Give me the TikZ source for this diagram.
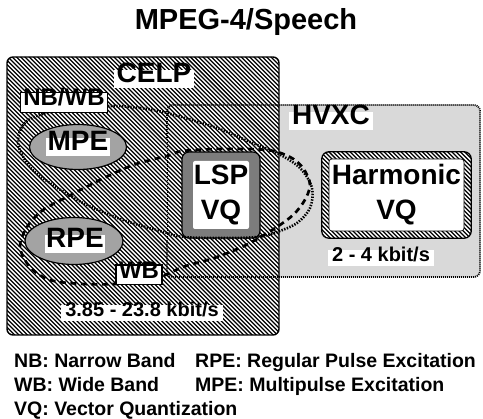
\documentclass[tikz,border=0pt]{standalone}
\usepackage{fontspec}
\setmainfont{Liberation Sans}
\usetikzlibrary{shapes.geometric}
\definecolor{hvxcgray}{HTML}{D9D9D9}
\definecolor{ellgray}{HTML}{A3A3A3}
\definecolor{bandgray}{HTML}{7C7C7C}
\newcommand\titlefnt{\fontsize{29}{34}\selectfont\bfseries}
\newcommand\bigfnt{\fontsize{28}{35}\selectfont\bfseries}
\newcommand\midfnt{\fontsize{24}{28}\selectfont\bfseries}
\newcommand\ratefnt{\fontsize{20}{24}\selectfont\bfseries}
\newcommand\legfnt{\fontsize{19.5}{24}\selectfont\bfseries}
\tikzset{
  every node/.style={text=black},
  hatchline/.style={line width=1.25pt},
  wlabel/.style={fill=white, inner xsep=1.5pt, inner ysep=5pt,
    text height=0.72em, text depth=0pt},
  bandbox/.style={draw=black, fill=white, line width=1.3pt, inner xsep=3pt,
    inner ysep=6pt, text height=0.72em, text depth=0.05em, font=\midfnt},
  ellbox/.style={ellipse, draw=black, line width=1.2pt, fill=ellgray,
    inner sep=0pt},
  dotloop/.style={line width=2.6pt, dash pattern=on 1.4pt off 1.4pt},
  dashloop/.style={line width=2.7pt, dash pattern=on 6pt off 4.5pt},
  hvxcedge/.style={line width=1.8pt, dash pattern=on 1pt off 1pt},
  legend/.style={anchor=base west, font=\legfnt, inner sep=0pt}
}
\begin{document}
\begin{tikzpicture}[x=1pt,y=-1pt]
\useasboundingbox (0,0) rectangle (483,419);

% title
\node[font=\titlefnt, inner sep=0pt] (title) at (246,22) {MPEG-4/Speech};

% HVXC region (grey)
\fill[hvxcgray, rounded corners=6pt] (167,105) rectangle (480,277);

% CELP region: white ground with diagonal hatching
\begin{scope}
  \clip[rounded corners=6pt] (7,57) rectangle (279,335);
  \fill[white] (7,57) rectangle (279,335);
  \foreach \c in {-300,-295.76,...,285} \draw[hatchline] (\c,50) -- ++(300,300);
\end{scope}
\draw[line width=1.4pt, rounded corners=6pt] (7,57) rectangle (279,335);

% HVXC outline
\draw[hvxcedge, rounded corners=6pt] (167,140) |- (480,105) -- (480,277) -| (167,240);
\draw[line width=0.8pt, dash pattern=on 1pt off 1pt] (167,140) -- (167,240);

% excitation ellipses
\node[ellbox, minimum width=97pt, minimum height=45pt] (mpe) at (78,147) {};
\node[wlabel, font=\bigfnt] (mpetext) at (mpe) {MPE};
\node[ellbox, minimum width=98pt, minimum height=47pt] (rpe) at (74,241) {};
\node[wlabel, font=\bigfnt] (rpetext) at (75,244) {RPE};

% LSP VQ box: grey band
\node[draw=black, fill=bandgray, line width=1.2pt, rounded corners=7pt,
      minimum width=78pt, minimum height=86pt] (lsp) at (221,195) {};
\node[fill=white, rounded corners=2pt, minimum width=56pt, minimum height=68pt,
      align=center, font=\bigfnt, inner sep=0pt] (lsptext) at (lsp) {LSP\\VQ};

% Harmonic VQ box: hatched band
\node[fill=white, rounded corners=7pt,
      minimum width=149pt, minimum height=86pt] (harm) at (396.5,195) {};
\begin{scope}
  \clip[rounded corners=7pt] (harm.south west) rectangle (harm.north east);
  \foreach \c in {50,54.24,...,480} \draw[hatchline] (\c,140) -- ++(110,110);
\end{scope}
\draw[line width=1.3pt, rounded corners=7pt] (harm.south west) rectangle (harm.north east);
\node[fill=white, draw=black, line width=0.6pt, rounded corners=3pt,
      minimum width=135pt, minimum height=72pt, align=center, font=\bigfnt,
      inner sep=0pt] (harmtext) at (harm) {Harmonic\\VQ};

% grouping loops
\draw[dotloop] plot[smooth cycle, tension=0.55] coordinates {
  (108,106) (140,108) (167,113) (217,128) (250,142) (277,153) (300,168)
  (312,188) (310,208) (297,223) (277,232) (257,237) (221,238) (183,237)
  (167,233) (123,220) (83,203) (50,183) (30,167) (18,143) (27,121) (60,110)};
\draw[dashloop] plot[smooth cycle, tension=0.55] coordinates {
  (163,276) (183,267) (217,257) (250,243) (287,220) (303,203) (310,185)
  (303,168) (290,157) (267,150) (221,149) (183,151) (167,156) (133,165)
  (100,180) (67,197) (43,210) (27,227) (20,247) (30,267) (50,280)
  (83,284) (115,284) (140,281)};

% bandwidth tags
\node[bandbox] (nbwb) at (64,102.5) {NB/WB};
\node[bandbox] (wb) at (139,275) {WB};

% region names and bit rates
\node[wlabel, font=\bigfnt, inner xsep=3pt] (celp) at (154,79) {CELP};
\node[wlabel, font=\bigfnt, inner xsep=3pt] (hvxc) at (331,121) {HVXC};
\node[wlabel, font=\ratefnt, inner xsep=4pt, inner ysep=4pt] (celprate) at (142,313) {3.85 - 23.8 kbit/s};
\node[wlabel, font=\ratefnt, inner xsep=4pt, inner ysep=4pt] (hvxcrate) at (381,258) {2 - 4 kbit/s};

% legend
\node[legend] (lg1) at (14,368) {NB: Narrow Band};
\node[legend] (lg2) at (195,368) {RPE: Regular Pulse Excitation};
\node[legend] (lg3) at (14,392) {WB: Wide Band};
\node[legend] (lg4) at (195,392) {MPE: Multipulse Excitation};
\node[legend] (lg5) at (14,416) {VQ: Vector Quantization};
\end{tikzpicture}
\end{document}
